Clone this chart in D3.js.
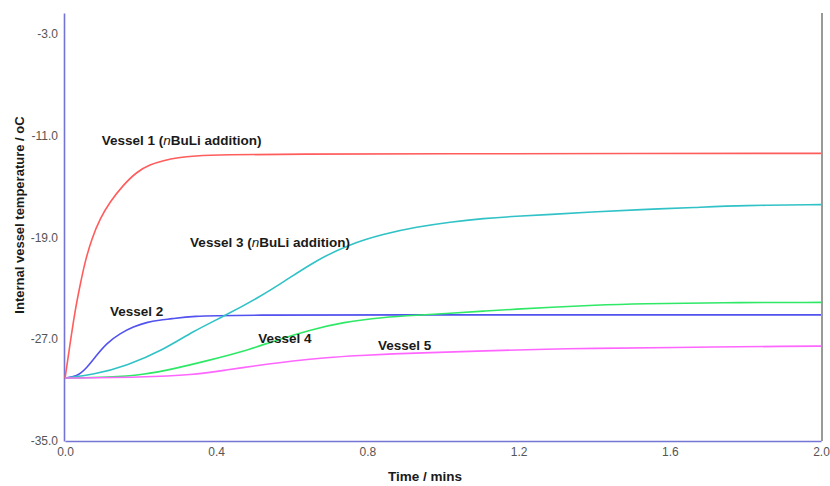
<!DOCTYPE html>
<html>
<head>
<meta charset="utf-8">
<script src="https://cdn.jsdelivr.net/npm/d3@7"></script>
<style>
  body { margin: 0; background: #fff; }
  .chart text { font-family: "Liberation Sans", Arial, sans-serif; }
</style>
</head>
<body>
<div class="chart"></div>
<script>
const WIDTH = 830;
const HEIGHT = 486;

// time in mins, temperature in oC
var vessel1 = [[0,-30.08],[0.013,-27.46],[0.026,-24.85],[0.04,-22.75],[0.053,-20.92],[0.071,-19.09],
  [0.093,-17.52],[0.119,-16.22],[0.154,-14.91],[0.19,-13.86],[0.225,-13.3],[0.26,-12.98],
  [0.3,-12.75],[0.34,-12.62],[0.42,-12.52],[0.6,-12.48],[1.0,-12.45],[1.5,-12.43],[2.0,-12.42]];
var vessel2 = [[0,-30.06],[0.031,-29.95],[0.057,-29.29],[0.084,-28.25],[0.11,-27.33],[0.146,-26.55],
  [0.181,-26.03],[0.216,-25.68],[0.251,-25.5],[0.278,-25.42],[0.339,-25.19],[0.444,-25.11],
  [1.0,-25.1],[1.5,-25.1],[2.0,-25.1]];
var vessel3 = [[0,-30.06],[0.075,-29.8],[0.163,-29.1],[0.26,-27.85],[0.338,-26.4],[0.426,-25.12],
  [0.515,-23.68],[0.576,-22.55],[0.665,-20.8],[0.753,-19.55],[0.842,-18.75],[0.93,-18.2],
  [1.019,-17.8],[1.107,-17.53],[1.195,-17.35],[1.284,-17.22],[1.39,-17.02],[1.523,-16.83],
  [1.668,-16.67],[1.788,-16.51],[2.0,-16.44]];
var vessel4 = [[0,-30.06],[0.117,-30.0],[0.205,-29.82],[0.294,-29.3],[0.382,-28.65],[0.47,-28.0],
  [0.559,-27.08],[0.647,-26.29],[0.736,-25.67],[0.842,-25.28],[0.93,-25.12],[1.019,-24.98],
  [1.107,-24.8],[1.195,-24.65],[1.284,-24.5],[1.4,-24.33],[1.523,-24.22],[1.735,-24.13],[2.0,-24.12]];
var vessel5 = [[0,-30.06],[0.205,-30.0],[0.338,-29.82],[0.426,-29.43],[0.515,-29.04],[0.603,-28.7],
  [0.692,-28.45],[0.78,-28.29],[0.868,-28.15],[0.957,-28.07],[1.107,-27.92],[1.284,-27.78],
  [1.39,-27.73],[1.589,-27.66],[1.939,-27.56],[2.0,-27.55]];

var seriesColors = ["#ff5c5c", "#5252ee", "#30c2c6", "#2ee866", "#ff66ff"];
var allSeries = [vessel1, vessel2, vessel3, vessel4, vessel5];

var xTicks = [0, 0.4, 0.8, 1.2, 1.6, 2.0];
var yTicks = [-35, -27, -19, -11, -3];

// label text and its anchor in data units (time, temperature)
var labels = [
  {pre: "Vessel 1 (", it: "n", post: "BuLi addition)", t: 0.097, v: -11.76},
  {pre: "Vessel 3 (", it: "n", post: "BuLi addition)", t: 0.331, v: -19.77},
  {pre: "Vessel 2", it: "", post: "", t: 0.119, v: -25.19},
  {pre: "Vessel 4", it: "", post: "", t: 0.511, v: -27.31},
  {pre: "Vessel 5", it: "", post: "", t: 0.828, v: -27.86}
];

var svg = d3.select('.chart').append('svg')
  .attr('width', WIDTH)
  .attr('height', HEIGHT);

var xScale = d3.scaleLinear()
  .domain([0, 2])
  .range([65, 821]);

var yScale = d3.scaleLinear()
  .domain([-35, -1.4])
  .range([441, 13]);

var fmt = function(d){ return d.toFixed(1); };

var xAxis = d3.axisBottom(xScale).tickValues(xTicks).tickFormat(fmt)
  .tickSize(0).tickPadding(6);
var yAxis = d3.axisLeft(yScale).tickValues(yTicks).tickFormat(fmt)
  .tickSize(0).tickPadding(6);

// right frame line
svg.append('line')
  .attr('x1', xScale.range()[1] + 1).attr('x2', xScale.range()[1] + 1)
  .attr('y1', yScale.range()[1]).attr('y2', yScale.range()[0])
  .attr('stroke', '#999').attr('stroke-width', 2);

var gx = svg.append('g')
  .attr('transform', 'translate(0,' + yScale.range()[0] + ')')
  .call(xAxis);

var gy = svg.append('g')
  .attr('transform', 'translate(' + (xScale.range()[0] - 1) + ',0)')
  .call(yAxis);

[gx, gy].forEach(function(g){
  g.select('.domain').attr('stroke', '#7474d4').attr('stroke-width', 1.6);
  g.selectAll('text').attr('fill', '#555').style('font-size', '12px')
    .style('font-family', '"Liberation Sans", Arial, sans-serif');
});

var line = d3.line()
  .x(function(d){ return xScale(d[0]); })
  .y(function(d){ return yScale(d[1]); })
  .curve(d3.curveBasis);

svg.append('g').selectAll('path')
  .data(allSeries)
  .enter().append('path')
  .attr('d', line)
  .attr('fill', 'none')
  .attr('stroke', function(d, i){ return seriesColors[i]; })
  .attr('stroke-width', 1.6);

var lab = svg.append('g').selectAll('text')
  .data(labels)
  .enter().append('text')
  .attr('x', function(d){ return xScale(d.t); })
  .attr('y', function(d){ return yScale(d.v); })
  .attr('font-size', 13.5)
  .attr('font-weight', 'bold')
  .attr('fill', '#1a1a1a');
lab.append('tspan').text(function(d){ return d.pre; });
lab.append('tspan').attr('font-style', 'italic').attr('font-weight', 'normal').text(function(d){ return d.it; });
lab.append('tspan').text(function(d){ return d.post; });

svg.append('text')
  .attr('x', 425).attr('y', 481)
  .attr('text-anchor', 'middle')
  .attr('font-size', 13.5).attr('font-weight', 'bold').attr('fill', '#1a1a1a')
  .text('Time / mins');

svg.append('text')
  .attr('transform', 'translate(24,215) rotate(-90)')
  .attr('text-anchor', 'middle')
  .attr('font-size', 13).attr('font-weight', 'bold').attr('fill', '#1a1a1a')
  .text('Internal vessel temperature / oC');
</script>
</body>
</html>
